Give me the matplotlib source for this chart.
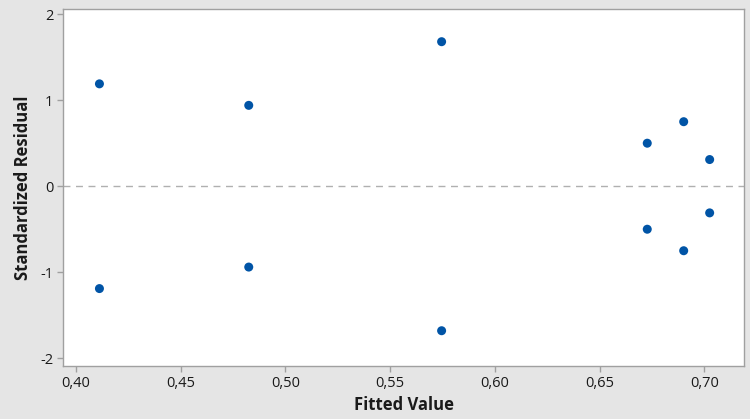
import matplotlib
matplotlib.use("Agg")
import matplotlib.pyplot as plt
from matplotlib.ticker import FuncFormatter

fitted = [0.4112, 0.4112, 0.4825, 0.4825, 0.5746, 0.5746, 0.6728, 0.6728, 0.6902, 0.6902, 0.7026, 0.7026]
residuals = [1.19, -1.19, 0.94, -0.94, 1.68, -1.68, 0.50, -0.50, 0.75, -0.75, 0.31, -0.31]
x_ticks = [0.40, 0.45, 0.50, 0.55, 0.60, 0.65, 0.70]
y_ticks = [-2, -1, 0, 1, 2]

plt.rcParams['font.family'] = ['Open Sans', 'DejaVu Sans']

fig = plt.figure(figsize=(7.5, 4.19), dpi=100, facecolor='#e5e5e5')
ax = fig.add_axes([0.084, 0.1265, 0.908, 0.852])
ax.set_facecolor('white')

ax.axhline(0, color='#b0b0b0', linestyle=(0, (5, 4)), linewidth=1.0, zorder=1)
ax.scatter(fitted, residuals, s=42, color='#0054a6', edgecolors='none', zorder=3)

ax.set_xlim(0.3938, 0.719)
ax.set_ylim(-2.09, 2.06)
ax.set_xticks(x_ticks)
ax.set_yticks(y_ticks)
ax.xaxis.set_major_formatter(FuncFormatter(lambda v, p: f"{v:.2f}".replace('.', ',')))
ax.yaxis.set_major_formatter(FuncFormatter(lambda v, p: f"{int(round(v))}"))

for s in ax.spines.values():
    s.set_color('#a0a0a0')
    s.set_linewidth(1.0)
ax.tick_params(direction='out', length=4, width=1, color='#a0a0a0',
               labelsize=10.5, labelcolor='#1a1a1a', pad=3)

ax.set_xlabel('Fitted Value', fontsize=12, fontweight='bold', color='#1a1a1a', labelpad=4)
ax.set_ylabel('Standardized Residual', fontsize=12, fontweight='bold', color='#1a1a1a', labelpad=6)

fig.savefig('out.png', dpi=100, facecolor=fig.get_facecolor())
